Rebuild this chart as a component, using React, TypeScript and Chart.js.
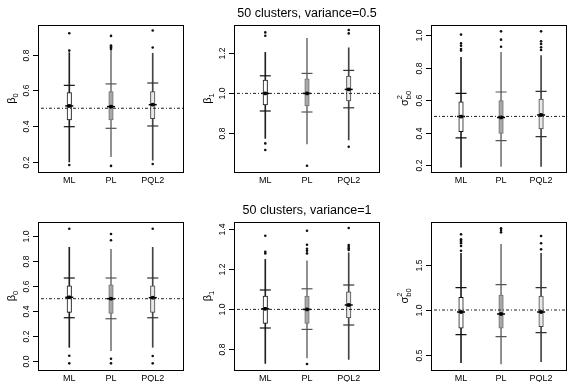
import React, { useEffect, useRef } from 'react';
import { Chart, registerables } from 'chart.js';
Chart.register(...registerables);

// ---------------- data ----------------
const methods = ['ML', 'PL', 'PQL2'];
const panelTitles = ['', '50 clusters, variance=0.5', '', '', '50 clusters, variance=1', ''];
const yLabelMain = ['β', 'β', 'σ', 'β', 'β', 'σ'];
const yLabelSub = ['0', '1', 'b0', '0', '1', 'b0'];
const yLabelSup = ['', '', '2', '', '', '2'];
const trueValues = [0.5, 1.0, 0.5, 0.5, 1.0, 1.0];
const yMin = [0.144, 0.607, 0.159, -0.069, 0.697, 0.333];
const yMax = [0.965, 1.342, 1.061, 1.112, 1.437, 1.978];
const yTicks = [
  [0.2, 0.4, 0.6, 0.8],
  [0.8, 1.0, 1.2],
  [0.2, 0.4, 0.6, 0.8, 1.0],
  [0.0, 0.2, 0.4, 0.6, 0.8, 1.0],
  [0.8, 1.0, 1.2, 1.4],
  [0.5, 1.0, 1.5],
];

// whisker extent (per panel: ML, PL, PQL2)
const whiskerLow = [
  [0.2, 0.23, 0.21],
  [0.775, 0.747, 0.767],
  [0.188, 0.194, 0.194],
  [0.112, 0.085, 0.112],
  [0.73, 0.758, 0.75],
  [0.414, 0.4, 0.426],
];
const whiskerHigh = [
  [0.811, 0.826, 0.807],
  [1.205, 1.275, 1.228],
  [0.863, 0.893, 0.873],
  [0.91, 0.894, 0.91],
  [1.25, 1.243, 1.283],
  [1.63, 1.73, 1.63],
];
// box (lower / upper quartile)
const boxLow = [
  [0.435, 0.435, 0.442],
  [0.943, 0.938, 0.962],
  [0.407, 0.396, 0.423],
  [0.391, 0.383, 0.391],
  [0.93, 0.93, 0.957],
  [0.797, 0.797, 0.814],
];
const boxHigh = [
  [0.587, 0.593, 0.593],
  [1.067, 1.073, 1.087],
  [0.589, 0.597, 0.607],
  [0.603, 0.611, 0.603],
  [1.067, 1.067, 1.088],
  [1.141, 1.167, 1.156],
];
// centre marker
const centers = [
  [0.513, 0.509, 0.52],
  [1.0, 1.0, 1.02],
  [0.499, 0.494, 0.509],
  [0.511, 0.5, 0.508],
  [1.003, 1.0, 1.022],
  [0.978, 0.956, 0.978],
];
// horizontal bars (lower / upper)
const barLow = [
  [0.397, 0.388, 0.401],
  [0.912, 0.907, 0.928],
  [0.368, 0.352, 0.376],
  [0.348, 0.34, 0.348],
  [0.907, 0.9, 0.922],
  [0.726, 0.703, 0.748],
];
const barHigh = [
  [0.628, 0.636, 0.641],
  [1.088, 1.1, 1.115],
  [0.642, 0.65, 0.654],
  [0.665, 0.665, 0.665],
  [1.097, 1.103, 1.122],
  [1.248, 1.281, 1.248],
];
// outliers
const outliers = [
  [[0.919, 0.822, 0.183], [0.904, 0.85, 0.845, 0.839, 0.831, 0.178], [0.934, 0.839, 0.189]],
  [[1.305, 1.288, 0.75, 0.717], [0.638], [1.317, 1.3, 0.733]],
  [[1.002, 0.948, 0.934, 0.914, 0.904], [1.022, 0.971, 0.928], [1.022, 0.961, 0.945, 0.924, 0.908]],
  [[1.058, 0.045, -0.016], [1.016, 0.966, 0.021, -0.016], [1.058, 0.043, -0.016]],
  [[1.368, 1.288, 1.28], [1.393, 1.323, 1.303, 1.293, 1.28, 0.727], [1.407, 1.322, 1.313, 1.305, 1.297]],
  [[1.841, 1.786, 1.769, 1.759, 1.741, 1.711, 1.659], [1.908, 1.889, 1.863], [1.822, 1.741, 1.674]],
];

// ---------------- layout / style ----------------
const W = 574;
const H = 382;
const areas = [
  [38, 25, 184, 172],
  [234, 25, 380, 172],
  [431, 25, 573, 172],
  [38, 222, 184, 370],
  [234, 222, 380, 370],
  [431, 222, 573, 370],
];
const xRanges = [
  [-0.75, 2.75],
  [-0.75, 2.75],
  [-0.75, 2.655],
  [-0.75, 2.75],
  [-0.75, 2.75],
  [-0.75, 2.655],
];
const X_AXIS_H = 18;
const FONT = '"Liberation Sans", Arial, Helvetica, sans-serif';
const whiskerColors = ['#222', '#7a7a7a', '#444'];
const boxFill = ['#ffffff', '#a8a8a8', '#e8e8e8'];
const boxBorder = ['#111', '#707070', '#444'];
const barColors = ['#111', '#555', '#333'];

Chart.defaults.font.family = FONT;

function Panel({ p }: { p: number }) {
  const ref = useRef<HTMLCanvasElement>(null);
  useEffect(() => {
    const [L, T, R, B] = areas[p];
    const [xmin, xmax] = xRanges[p];
    const idx = methods.map((_, i) => i);

    const whiskerData = idx.map((i) => ({ x: i, y: [whiskerLow[p][i], whiskerHigh[p][i]] }));
    const boxData = idx.map((i) => ({ x: i, y: [boxLow[p][i], boxHigh[p][i]] }));
    const barData: any[] = [];
    const barCol: string[] = [];
    idx.forEach((i) => {
      barData.push({ x: i, y: barLow[p][i] });
      barCol.push(barColors[i]);
      barData.push({ x: i, y: barHigh[p][i] });
      barCol.push(barColors[i]);
    });
    const centerData = idx.map((i) => ({ x: i, y: centers[p][i] }));
    const outData: any[] = [];
    idx.forEach((i) => outliers[p][i].forEach((v) => outData.push({ x: i, y: v })));

    const decor = {
      id: 'decor' + p,
      afterDraw(chart: any) {
        const { ctx, chartArea: a, scales } = chart;
        const ys = scales.y;
        ctx.save();
        ctx.strokeStyle = '#000';
        ctx.lineWidth = 1;
        ctx.strokeRect(Math.round(a.left) + 0.5, Math.round(a.top) + 0.5, Math.round(a.right - a.left) - 1, Math.round(a.bottom - a.top));
        ctx.fillStyle = '#000';
        ctx.font = '8.5px ' + FONT;
        for (const v of yTicks[p]) {
          const y = Math.round(ys.getPixelForValue(v)) + 0.5;
          ctx.beginPath();
          ctx.moveTo(a.left - 5, y);
          ctx.lineTo(a.left, y);
          ctx.stroke();
          ctx.save();
          ctx.translate(a.left - 11, y);
          ctx.rotate(-Math.PI / 2);
          ctx.textAlign = 'center';
          ctx.textBaseline = 'middle';
          ctx.fillText(v.toFixed(1), 0, 0);
          ctx.restore();
        }
        // y title with sub/superscripts
        const cy = (a.top + a.bottom) / 2;
        ctx.save();
        ctx.translate(a.left - 23, cy);
        ctx.rotate(-Math.PI / 2);
        ctx.textBaseline = 'alphabetic';
        ctx.textAlign = 'left';
        ctx.font = '11px ' + FONT;
        const wMain = ctx.measureText(yLabelMain[p]).width;
        ctx.font = '7.5px ' + FONT;
        const wSub = ctx.measureText(yLabelSub[p]).width;
        const wSup = ctx.measureText(yLabelSup[p]).width;
        const total = wMain + Math.max(wSub, wSup);
        const sx = -total / 2;
        ctx.font = '11px ' + FONT;
        ctx.fillText(yLabelMain[p], sx, 0);
        ctx.font = '7.5px ' + FONT;
        ctx.fillText(yLabelSub[p], sx + wMain, 2.5);
        if (yLabelSup[p]) ctx.fillText(yLabelSup[p], sx + wMain, -6);
        ctx.restore();
        // panel title
        if (panelTitles[p]) {
          ctx.font = '12.5px ' + FONT;
          ctx.textAlign = 'center';
          ctx.textBaseline = 'middle';
          ctx.fillText(panelTitles[p], (a.left + a.right) / 2, a.top - 11);
        }
        ctx.restore();
      },
    };

    const chart = new Chart(ref.current as HTMLCanvasElement, {
      type: 'bar',
      data: {
        datasets: [
          {
            type: 'line',
            data: [
              { x: xmin, y: trueValues[p] },
              { x: xmax, y: trueValues[p] },
            ],
            borderColor: '#222',
            borderWidth: 1,
            borderDash: [1, 2, 3, 2],
            pointRadius: 0,
            order: 1,
          } as any,
          {
            type: 'scatter',
            data: outData,
            pointStyle: 'circle',
            pointRadius: 1.3,
            backgroundColor: '#111',
            borderWidth: 0,
            order: 2,
          } as any,
          {
            type: 'scatter',
            data: centerData,
            pointStyle: 'rect',
            pointRadius: 1.8,
            backgroundColor: '#000',
            borderColor: '#000',
            borderWidth: 1,
            order: 3,
          } as any,
          {
            type: 'scatter',
            data: centerData,
            pointStyle: 'line',
            pointRadius: 4,
            borderColor: '#000',
            borderWidth: 1.5,
            order: 3,
          } as any,
          {
            type: 'scatter',
            data: barData,
            pointStyle: 'line',
            pointRadius: 5.5,
            borderColor: barCol,
            borderWidth: 1.2,
            order: 4,
          } as any,
          {
            type: 'bar',
            data: boxData,
            grouped: false,
            barThickness: 4.5,
            backgroundColor: boxFill,
            borderColor: boxBorder,
            borderWidth: 1,
            borderSkipped: false,
            order: 5,
          } as any,
          {
            type: 'bar',
            data: whiskerData,
            grouped: false,
            barThickness: 1,
            backgroundColor: whiskerColors,
            borderWidth: 0,
            order: 6,
          } as any,
        ],
      },
      options: {
        responsive: false,
        animation: false,
        devicePixelRatio: 1,
        events: [],
        layout: { padding: { left: L, top: T, right: W - R, bottom: H - B - X_AXIS_H } },
        plugins: { legend: { display: false }, tooltip: { enabled: false }, title: { display: false } },
        scales: {
          x: {
            type: 'linear',
            min: xmin,
            max: xmax,
            offset: false,
            grid: { display: false, drawTicks: false },
            border: { display: false },
            afterBuildTicks: (s: any) => {
              s.ticks = methods.map((_, i) => ({ value: i }));
            },
            afterFit: (s: any) => {
              s.height = X_AXIS_H;
            },
            ticks: {
              autoSkip: false,
              maxRotation: 0,
              minRotation: 0,
              padding: 3,
              color: '#000',
              font: { size: 9, family: FONT },
              callback: (v: any) => methods[Math.round(Number(v))] ?? '',
            },
          } as any,
          y: {
            type: 'linear',
            display: false,
            min: yMin[p],
            max: yMax[p],
          },
        },
      } as any,
      plugins: [decor],
    });
    return () => chart.destroy();
  }, [p]);
  return (
    <canvas
      ref={ref}
      width={W}
      height={H}
      style={{ position: 'absolute', left: 0, top: 0, width: W, height: H }}
    />
  );
}

export default function App() {
  return (
    <div style={{ position: 'absolute', left: 0, top: 0, width: W, height: H, background: '#fff', overflow: 'hidden' }}>
      {[0, 1, 2, 3, 4, 5].map((p) => (
        <Panel key={p} p={p} />
      ))}
    </div>
  );
}
